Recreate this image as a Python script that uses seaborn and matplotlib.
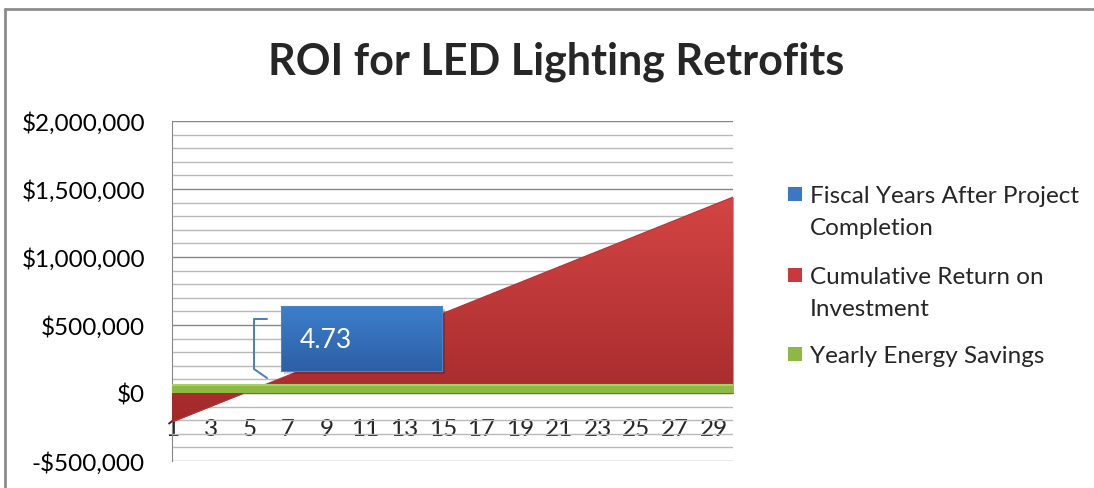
import numpy as np
import pandas as pd
import matplotlib.pyplot as plt
import matplotlib.patches as mpatches
from matplotlib.lines import Line2D
from matplotlib.colors import LinearSegmentedColormap
from matplotlib.ticker import FuncFormatter, MultipleLocator
import seaborn as sns

sns.set_style('white')
plt.rcParams['font.family'] = ['Lato', 'DejaVu Sans']

# Data
fiscal_years = [1, 2, 3, 4, 5, 6, 7, 8, 9, 10, 11, 12, 13, 14, 15,
                16, 17, 18, 19, 20, 21, 22, 23, 24, 25, 26, 27, 28, 29, 30]
cumulative_roi = [-212600, -155600, -98600, -41600, 15400, 72400, 129400, 186400,
                  243400, 300400, 357400, 414400, 471400, 528400, 585400, 642400,
                  699400, 756400, 813400, 870400, 927400, 984400, 1041400, 1098400,
                  1155400, 1212400, 1269400, 1326400, 1383400, 1440400]
yearly_savings = [57000, 57000, 57000, 57000, 57000, 57000, 57000, 57000, 57000, 57000,
                  57000, 57000, 57000, 57000, 57000, 57000, 57000, 57000, 57000, 57000,
                  57000, 57000, 57000, 57000, 57000, 57000, 57000, 57000, 57000, 57000]
payback_label = '4.73'
title = 'ROI for LED Lighting Retrofits'
legend_labels = ['Fiscal Years After Project\nCompletion',
                 'Cumulative Return on\nInvestment',
                 'Yearly Energy Savings']

df = pd.DataFrame({'year': fiscal_years, 'fiscal': fiscal_years,
                   'roi': cumulative_roi, 'savings': yearly_savings})

BLUE, RED, GREEN = '#3b78c4', '#c9393b', '#8db843'
GRID_MAJOR, GRID_MINOR = '#878787', '#b9b9b9'

W, H = 1094, 489
fig = plt.figure(figsize=(W / 100, H / 100), dpi=100)
ax = fig.add_axes([172 / W, 1 - 462 / H, (733 - 172) / W, (462 - 122) / H])


def px(x, y):
    # pixel position (from top-left) -> figure fraction
    return x / W, 1 - y / H


def gradient_area(ax, x, y, top, bottom, zorder):
    poly = ax.fill_between(x, 0, y, color=bottom, lw=0, zorder=zorder)
    cmap = LinearSegmentedColormap.from_list('grad', [bottom, top])
    grad = np.linspace(0, 1, 256).reshape(-1, 1)
    lo, hi = min(min(y), 0), max(max(y), 0)
    im = ax.imshow(grad, cmap=cmap, aspect='auto', origin='lower',
                   extent=(min(x), max(x), lo, hi), zorder=zorder)
    im.set_clip_path(poly.get_paths()[0], transform=ax.transData)
    return poly


# areas: blue (tiny), red cumulative, green savings on top
ax.fill_between(df['year'], 0, df['fiscal'], color=BLUE, lw=0, zorder=2)
gradient_area(ax, df['year'], df['roi'], '#d44444', '#a2292b', zorder=3)
sns.lineplot(data=df, x='year', y='roi', ax=ax, color='#b83234', lw=0.8, zorder=4)
ax.fill_between(df['year'], 0, df['savings'], color=GREEN, lw=0, zorder=5)
sns.lineplot(data=df, x='year', y='savings', ax=ax, color='#a9d067', lw=1.5, zorder=6)

ax.set_xlim(1, 30)
ax.set_ylim(-500000, 2000000)
ax.set_xlabel('')
ax.set_ylabel('')

# y axis
ax.yaxis.set_major_locator(MultipleLocator(500000))
ax.yaxis.set_minor_locator(MultipleLocator(100000))
ax.yaxis.set_major_formatter(FuncFormatter(
    lambda v, _: f"-${abs(v):,.0f}" if v < 0 else f"${v:,.0f}"))
ax.yaxis.grid(True, which='major', color=GRID_MAJOR, lw=1.0)
ax.yaxis.grid(True, which='minor', color=GRID_MINOR, lw=1.0)
ax.set_axisbelow(True)
ax.tick_params(axis='y', which='major', length=6.5, width=1, color=GRID_MAJOR,
               pad=13, labelsize=17.5, colors='black')
ax.tick_params(axis='y', which='minor', length=0)

# x axis crosses at zero
ax.set_xticks(fiscal_years)
ax.set_xticklabels([str(y) if y % 2 == 1 else '' for y in fiscal_years])
ax.tick_params(axis='x', direction='out', length=4, width=1, color=GRID_MAJOR,
               pad=14, labelsize=17.5)
for lbl in ax.get_xticklabels():
    lbl.set_color('black')
ax.spines['bottom'].set_position(('data', 0))
ax.spines['bottom'].set_color(GRID_MAJOR)
ax.spines['bottom'].set_zorder(1)
ax.spines['left'].set_color(GRID_MAJOR)
ax.spines['top'].set_visible(False)
ax.spines['right'].set_visible(False)

# outer chart frame
fig.add_artist(Line2D([5 / W, 5 / W], [0, 1 - 10 / H], transform=fig.transFigure,
                      color='#8c8c8c', lw=2))
fig.add_artist(Line2D([5 / W, 1.01], [1 - 10 / H, 1 - 10 / H], transform=fig.transFigure,
                      color='#8c8c8c', lw=2))

# title
fig.text(*px(556, 62), title, ha='center', va='center', fontsize=31, weight='bold')

# payback callout
bx0, by0, bx1, by1 = 281, 307, 442, 372
fig.add_artist(mpatches.Rectangle(px(bx0 + 3, by1 + 3), (bx1 - bx0) / W, (by1 - by0) / H,
                                  transform=fig.transFigure, color='#000000', alpha=0.18,
                                  lw=0, zorder=8))
cax = fig.add_axes([bx0 / W, 1 - by1 / H, (bx1 - bx0) / W, (by1 - by0) / H], zorder=10)
cmap_box = LinearSegmentedColormap.from_list('box', ['#2c5fa6', '#3d7fcb'])
cax.imshow(np.linspace(0, 1, 64).reshape(-1, 1), cmap=cmap_box, aspect='auto',
           origin='lower', extent=(0, 1, 0, 1))
cax.set_xlim(0, 1)
cax.set_ylim(0, 1)
cax.set_xticks([])
cax.set_yticks([])
for s in cax.spines.values():
    s.set_color('#4a83c8')
cax.text(0.118, 0.48, payback_label, color='white', fontsize=19, va='center', ha='left')

bracket = [(267, 320), (254, 320), (254, 370), (267, 379)]
fig.add_artist(Line2D([px(*p)[0] for p in bracket], [px(*p)[1] for p in bracket],
                      transform=fig.transFigure, color='#4a7ebb', lw=1.4, zorder=9))

# legend
legend_colors = [BLUE, RED, GREEN]
legend_rows = [195, 276, 355]
for label, color, yc in zip(legend_labels, legend_colors, legend_rows):
    fig.add_artist(mpatches.Rectangle(px(788, yc + 7), 14 / W, 14 / H,
                                      transform=fig.transFigure, color=color, lw=0))
    for i, line in enumerate(label.split('\n')):
        fig.text(*px(810, yc + 8 + i * 32), line, fontsize=17.5, ha='left', va='baseline')

fig.savefig('out.png', dpi=100)
